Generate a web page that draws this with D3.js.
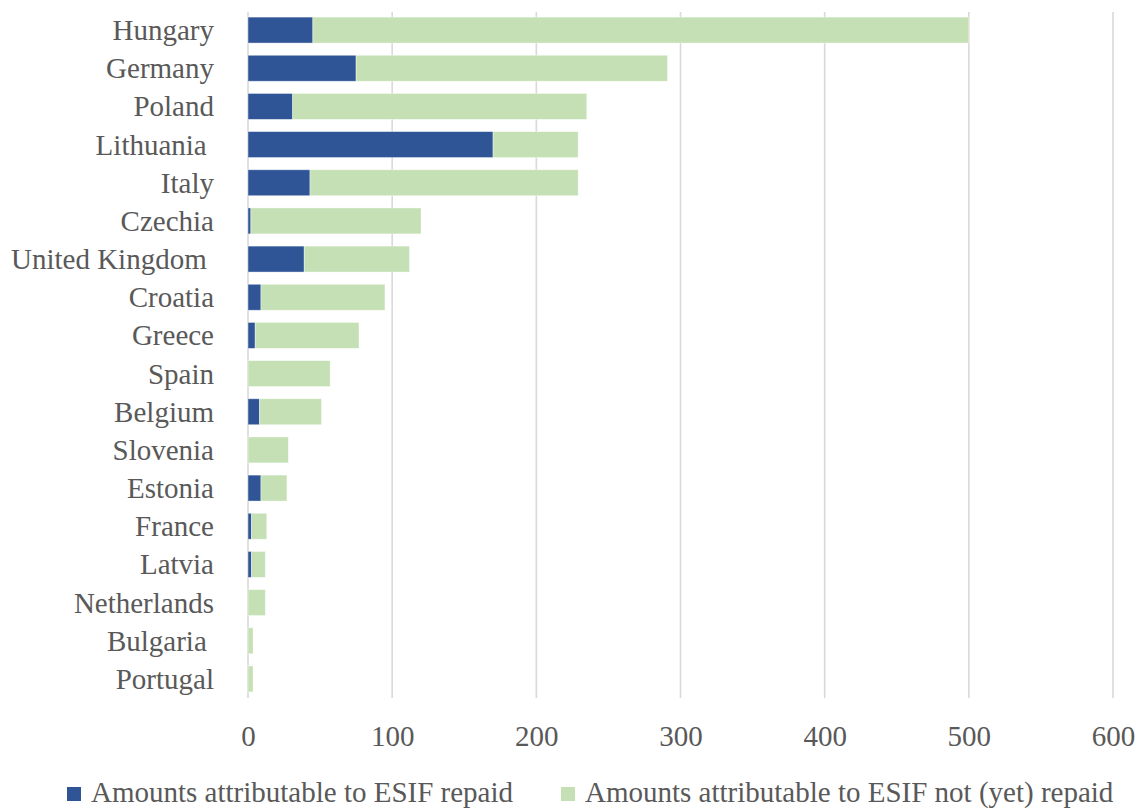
<!DOCTYPE html>
<html>
<head>
<meta charset="utf-8">
<script src="https://cdn.jsdelivr.net/npm/d3@7/dist/d3.min.js"></script>
<style>
  html, body { margin: 0; padding: 0; background: #fff; }
  svg { display: block; }
  text { font-family: "Liberation Serif", "Times New Roman", serif; fill: #595959; white-space: pre; }
</style>
</head>
<body>
<svg id="chart" width="1143" height="809"></svg>
<script>
// Member states, ordered by total amount
const countries = ["Hungary", "Germany", "Poland", "Lithuania ", "Italy", "Czechia",
  "United Kingdom ", "Croatia", "Greece", "Spain", "Belgium", "Slovenia", "Estonia",
  "France", "Latvia", "Netherlands", "Bulgaria ", "Portugal"];

// Amounts attributable to ESIF already repaid
const repaid = [45, 75, 31, 170, 43, 2, 39, 9, 5, 0, 8, 0, 9, 2.5, 2.5, 0, 0, 0];

// Amounts attributable to ESIF not (yet) repaid
const notRepaid = [455, 216, 204, 59, 186, 118, 73, 86, 72, 57, 43, 28, 18, 10.5, 9.5, 12, 3.5, 3.5];

const xTicks = [0, 100, 200, 300, 400, 500, 600];

const seriesNames = ["Amounts attributable to ESIF repaid", "Amounts attributable to ESIF not (yet) repaid"];
const seriesColors = ["#2F5597", "#C5E0B4"];

const svg = d3.select("#chart");

const x = d3.scaleLinear().domain([0, 600]).range([248, 1113]);
const y = d3.scaleBand().domain(countries).range([11, 698]).paddingInner(0.32).paddingOuter(0.16);

// Vertical gridlines
svg.append("g")
  .selectAll("line")
  .data(xTicks)
  .join("line")
  .attr("x1", d => x(d)).attr("x2", d => x(d))
  .attr("y1", 12).attr("y2", 698)
  .attr("stroke", "#d9d9d9")
  .attr("stroke-width", 1.6);

// Stacked bars
const rows = countries.map((c, i) => ({ country: c, repaid: repaid[i], notRepaid: notRepaid[i] }));
const stack = d3.stack().keys(["repaid", "notRepaid"]);
const layers = stack(rows);

svg.append("g")
  .selectAll("g")
  .data(layers)
  .join("g")
  .attr("fill", (d, i) => seriesColors[i])
  .selectAll("rect")
  .data(d => d.filter(s => s[1] - s[0] > 0))
  .join("rect")
  .attr("x", d => x(d[0]))
  .attr("y", d => y(d.data.country))
  .attr("width", d => x(d[1]) - x(d[0]))
  .attr("height", y.bandwidth())
  .attr("stroke", "#ffffff")
  .attr("stroke-opacity", 0.5)
  .attr("stroke-width", 0.8);

// Category labels
svg.append("g")
  .selectAll("text")
  .data(countries)
  .join("text")
  .attr("x", 214)
  .attr("y", d => y(d) + y.bandwidth() / 2 + 10)
  .attr("text-anchor", "end")
  .attr("font-size", 29)
  .text(d => d);

// Value axis labels
const xAxis = d3.axisBottom(x).tickValues(xTicks).tickSize(0).tickPadding(0);
const gx = svg.append("g").attr("transform", "translate(0,724)").call(xAxis);
gx.select(".domain").remove();
gx.selectAll("text")
  .attr("font-size", 29)
  .attr("font-family", "Liberation Serif, Times New Roman, serif")
  .attr("fill", "#595959")
  .attr("dy", "0.75em");

// Legend
const legendX = [67, 561];
const legend = svg.append("g")
  .selectAll("g")
  .data(seriesNames)
  .join("g")
  .attr("transform", (d, i) => `translate(${legendX[i]},787)`);
legend.append("rect")
  .attr("width", 14).attr("height", 14)
  .attr("fill", (d, i) => seriesColors[i]);
legend.append("text")
  .attr("x", 24)
  .attr("y", 15)
  .attr("font-size", 29)
  .text(d => d);
</script>
</body>
</html>
